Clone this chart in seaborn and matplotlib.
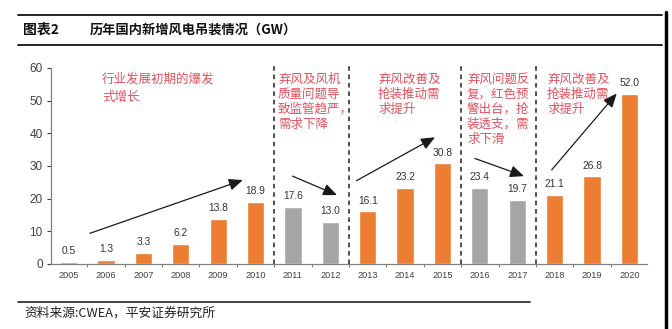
import matplotlib
matplotlib.use("Agg")
import matplotlib.pyplot as plt
import seaborn as sns
import pandas as pd
from matplotlib.lines import Line2D

years = ["2005", "2006", "2007", "2008", "2009", "2010", "2011", "2012",
         "2013", "2014", "2015", "2016", "2017", "2018", "2019", "2020"]
values = [0.5, 1.3, 3.3, 6.2, 13.8, 18.9, 17.6, 13.0,
          16.1, 23.2, 30.8, 23.4, 19.7, 21.1, 26.8, 52.0]
is_decline = [False] * 6 + [True, True] + [False] * 3 + [True, True] + [False] * 3
separators = [5.5, 7.5, 10.5, 12.5]
notes = [
    "行业发展初期的爆发\n式增长",
    "弃风及风机\n质量问题导\n致监管趋严，\n需求下降",
    "弃风改善及\n抢装推动需\n求提升",
    "弃风问题反\n复，红色预\n警出台，抢\n装透支，需\n求下滑",
    "弃风改善及\n抢装推动需\n求提升",
]
title_tag = "图表2"
title = "历年国内新增风电吊装情况（GW）"
source = "资料来源:CWEA，平安证券研究所"

ORANGE = "#ED7D31"
GREY = "#A5A5A5"
RED = "#E4505E"
CJK = ['Noto Sans CJK SC', 'DejaVu Sans']

sns.set_theme(style="white")
plt.rcParams['font.family'] = ['Liberation Sans', 'Noto Sans CJK SC', 'DejaVu Sans']

df = pd.DataFrame({"year": years, "value": values})
palette = {y: (GREY if d else ORANGE) for y, d in zip(years, is_decline)}

fig = plt.figure(figsize=(6.72, 3.29), dpi=100)
ax = fig.add_axes([51 / 672, 1 - 264 / 329, 596 / 672, 196 / 329])
sns.barplot(data=df, x="year", y="value", hue="year", palette=palette,
            width=0.46, legend=False, ax=ax, saturation=1)

ax.set_xlim(-0.47, 15.47)
ax.set_ylim(0, 60)
ax.set_yticks(range(0, 61, 10))
ax.set_xlabel("")
ax.set_ylabel("")
for s in ["top", "right"]:
    ax.spines[s].set_visible(False)
for s in ["left", "bottom"]:
    ax.spines[s].set_color("#808080")
    ax.spines[s].set_linewidth(0.9)
ax.tick_params(axis="y", labelsize=8.5, colors="#404040", length=3, width=0.8,
               direction="out", left=True, pad=3)
ax.tick_params(axis="x", labelsize=6.6, colors="#404040", length=0, pad=5)
ax.set_xticks([i + 0.5 for i in range(15)], minor=True)
ax.tick_params(axis="x", which="minor", length=2.5, width=0.8, color="#808080",
               bottom=True, direction="out")

for i, v in enumerate(values):
    ax.text(i, v + 1.8, f"{v:.1f}", ha="center", va="bottom", fontsize=7.4,
            color="#333333")

for xs in separators:
    ax.plot([xs, xs], [0, 61.5], ls=(0, (3, 2.5)), color="#202020", lw=1.1,
            clip_on=False)

arrows = [((0.57, 9.4), (4.66, 25.7)), ((5.99, 26.9), (7.18, 21.1)),
          ((7.70, 25.5), (9.80, 38.8)), ((10.87, 32.3), (12.18, 26.9)),
          ((12.92, 28.8), (14.66, 52.2))]
for (s, e) in arrows:
    ax.annotate("", xy=e, xytext=s,
                arrowprops=dict(arrowstyle="-|>,head_length=0.7,head_width=0.3",
                                color="#1a1a1a", lw=0.9, shrinkA=0, shrinkB=0))

note_pos = [(102, 73, 1.55), (278, 73, 1.2), (378, 73, 1.2), (467, 73, 1.2), (547, 73, 1.2)]
for txt, (px, py, ls) in zip(notes, note_pos):
    fig.text(px / 672, 1 - py / 329, txt, ha="left", va="top", fontsize=9,
             color=RED, linespacing=ls, family=CJK)

# header / footer
fig.add_artist(Line2D([18 / 672, 662 / 672], [1 - 15 / 329] * 2, color="#222222", lw=1.4))
fig.add_artist(Line2D([18 / 672, 662 / 672], [1 - 45 / 329] * 2, color="#222222", lw=1.4))
fig.text(23 / 672, 1 - 30 / 329, title_tag, ha="left", va="center", fontsize=10,
         fontweight="bold", color="#111111", family=CJK)
fig.text(90 / 672, 1 - 30 / 329, title, ha="left", va="center", fontsize=9.5,
         fontweight="bold", color="#111111", family=CJK)
fig.add_artist(Line2D([18 / 672, 530 / 672], [1 - 302 / 329] * 2, color="#222222", lw=1.2))
fig.text(24 / 672, 1 - 313 / 329, source, ha="left", va="center", fontsize=9.2,
         style="italic", color="#222222", family=CJK)
fig.add_artist(Line2D([665.5 / 672] * 2, [0, 1 - 12 / 329], color="#000000", lw=2.5))

fig.savefig("out.png", dpi=100)
